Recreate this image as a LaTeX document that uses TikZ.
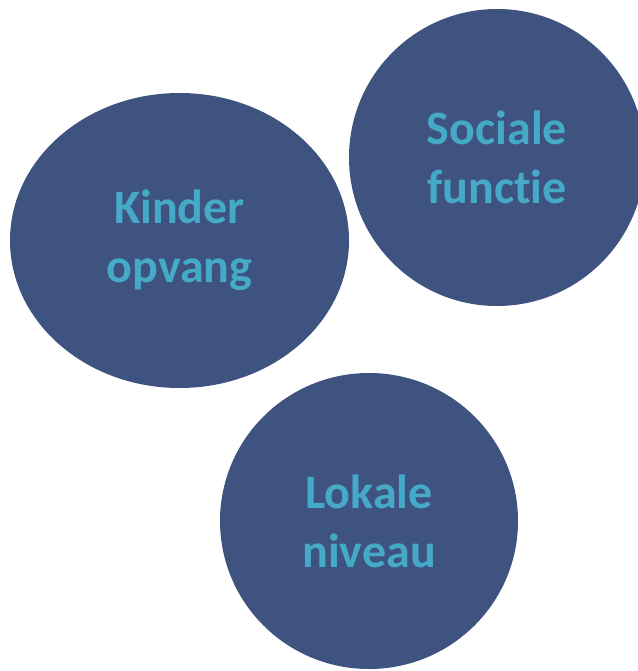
\documentclass[tikz,border=0pt]{standalone}
\usepackage{fontspec}
\setmainfont[Ligatures=NoCommon]{Carlito}
\usepackage{xcolor}
\usepackage{tikz}
\usetikzlibrary{shapes.geometric}

\definecolor{bubblefill}{HTML}{3F5380}
\definecolor{bubbletext}{HTML}{45A9C8}

\tikzset{bubble/.style={ellipse, fill=bubblefill, inner sep=0pt, text=bubbletext,
    align=center, font=\fontsize{48}{59}\selectfont\bfseries}}

\begin{document}
\begin{tikzpicture}[x=1pt,y=-1pt]

\useasboundingbox (0,0) rectangle (637,671);

\node[bubble, minimum width=339pt, minimum height=295pt] (kinder) at (179.5,240.5) {Kinder\\opvang};
\node[bubble, minimum width=296pt, minimum height=297pt] (sociaal) at (497,157.5) {Sociale\\functie};
\node[bubble, minimum width=298pt, minimum height=296pt] (lokaal) at (369,521) {Lokale\\niveau};

\end{tikzpicture}
\end{document}
